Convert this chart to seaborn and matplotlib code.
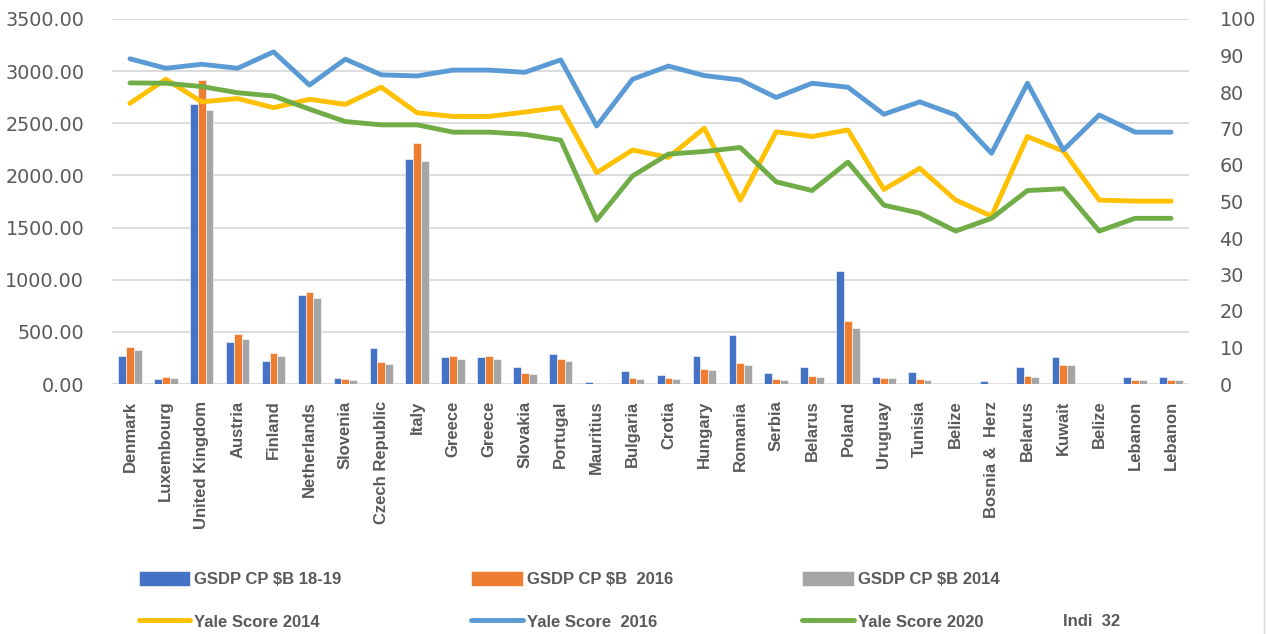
import numpy as np
import pandas as pd
import matplotlib
matplotlib.use("Agg")
import matplotlib.pyplot as plt
import seaborn as sns

categories = ["Denmark", "Luxembourg", "United Kingdom", "Austria", "Finland",
              "Netherlands", "Slovenia", "Czech Republic", "Italy", "Greece",
              "Greece", "Slovakia", "Portugal", "Mauritius", "Bulgaria",
              "Crotia", "Hungary", "Romania", "Serbia", "Belarus", "Poland",
              "Uruguay", "Tunisia", "Belize", "Bosnia &  Herz", "Belarus",
              "Kuwait", "Belize", "Lebanon", "Lebanon"]

gsdp_1819 = [271, 48, 2688, 403, 224, 850, 58, 345, 2158, 259,
             259, 163, 288, 19, 128, 86, 268, 470, 105, 160, 1084,
             67, 118, 0, 32, 160, 256, 0, 70, 70]
gsdp_2016 = [355, 64, 2915, 477, 297, 885, 45, 208, 2311, 268,
             268, 105, 240, 10, 55, 60, 144, 205, 45, 80, 604,
             58, 51, 0, 10, 77, 182, 0, 42, 42]
gsdp_2014 = [326, 55, 2625, 432, 265, 822, 38, 192, 2142, 237,
             237, 96, 221, 5, 48, 51, 131, 182, 35, 70, 537,
             53, 42, 0, 8, 67, 180, 0, 35, 35]

yale_2014 = [76.9, 83.5, 77.3, 78.2, 75.7, 78.0, 76.6, 81.3, 74.3, 73.3,
             73.3, 74.5, 75.8, 57.9, 64.1, 62.1, 70.1, 50.4, 69.1, 67.8, 69.6,
             53.3, 59.1, 50.4, 46.0, 67.8, 63.8, 50.4, 50.1, 50.1]
yale_2016 = [89.1, 86.5, 87.6, 86.5, 91.0, 81.9, 89.0, 84.7, 84.4, 86.0,
             86.0, 85.4, 88.8, 70.7, 83.5, 87.1, 84.5, 83.3, 78.5, 82.4, 81.3,
             73.9, 77.3, 73.7, 63.2, 82.4, 64.1, 73.7, 69.0, 69.0]
yale_2020 = [82.5, 82.4, 81.5, 79.8, 78.9, 75.3, 71.9, 71.0, 71.0, 69.0,
             69.0, 68.4, 66.8, 44.9, 57.0, 63.0, 63.7, 64.8, 55.4, 53.0, 60.8,
             49.0, 46.8, 41.9, 45.4, 53.0, 53.5, 41.9, 45.4, 45.4]

bar_series = ["GSDP CP $B 18-19", "GSDP CP $B  2016", "GSDP CP $B 2014"]
line_series = ["Yale Score 2014", "Yale Score  2016", "Yale Score 2020"]
extra_label = "Indi  32"

bar_colors = ["#4472C4", "#ED7D31", "#A5A5A5"]
line_colors = ["#FFC000", "#5B9BD5", "#70AD47"]

idx = np.arange(len(categories))
bars_df = pd.DataFrame({
    "idx": np.tile(idx, 3),
    "value": gsdp_1819 + gsdp_2016 + gsdp_2014,
    "series": np.repeat(bar_series, len(categories)),
})
lines_df = pd.DataFrame({
    "idx": np.tile(idx, 3),
    "value": yale_2014 + yale_2016 + yale_2020,
    "series": np.repeat(line_series, len(categories)),
})

sns.set_theme(style="white")
plt.rcParams["font.family"] = ["DejaVu Sans"]

W, H = 1267, 634
fig = plt.figure(figsize=(W / 100, H / 100), dpi=100)
ax = fig.add_axes([112 / W, 1 - 384 / H, (1189 - 112) / W, (384 - 19) / H])

sns.barplot(data=bars_df, x="idx", y="value", hue="series",
            hue_order=bar_series, palette=bar_colors, width=0.65,
            ax=ax, saturation=1, edgecolor="white", linewidth=0.4)
bh, bl = ax.get_legend_handles_labels()
if ax.get_legend() is not None:
    ax.get_legend().remove()

ax2 = ax.twinx()
sns.lineplot(data=lines_df, x="idx", y="value", hue="series",
             hue_order=line_series, palette=line_colors, linewidth=3.5,
             ax=ax2)
lh, ll = ax2.get_legend_handles_labels()
if ax2.get_legend() is not None:
    ax2.get_legend().remove()

tick_color = "#595959"
grid_color = "#D9D9D9"

ax.set_xlim(-0.5, len(categories) - 0.5)
ax.set_ylim(0, 3500)
ax.set_yticks(np.arange(0, 3501, 500))
ax.set_yticklabels([f"{v:.2f}" for v in np.arange(0, 3501, 500)])
ax2.set_ylim(0, 100)
ax2.set_yticks(np.arange(0, 101, 10))

ax.set_xticks(idx)
ax.set_xticklabels(categories, rotation=90, fontsize=12, fontweight="bold",
                   color=tick_color, family=["Liberation Sans"])
ax.tick_params(axis="x", length=0, pad=12)
ax.tick_params(axis="y", length=0, pad=20, labelsize=13.8, labelcolor=tick_color)
ax2.tick_params(axis="y", length=0, pad=22, labelsize=13.8, labelcolor=tick_color)
for lab in ax2.get_yticklabels():
    lab.set_horizontalalignment("left")

ax.set_xlabel("")
ax.set_ylabel("")
ax2.set_xlabel("")
ax2.set_ylabel("")

ax.grid(axis="y", color=grid_color, linewidth=1.3)
ax.set_axisbelow(True)
for a in (ax, ax2):
    for s in a.spines.values():
        s.set_visible(False)

# Legend
leg_font = {"family": ["Liberation Sans"], "weight": "bold", "size": 12}
handles = [bh[0], lh[0], bh[1], lh[1], bh[2], lh[2]]
labels = [bl[0], ll[0], bl[1], ll[1], bl[2], ll[2]]
leg = fig.legend(handles, labels, ncol=3, loc="upper left",
                 bbox_to_anchor=(132 / W, 1 - 564 / H), frameon=False,
                 prop=leg_font, handlelength=3.1, handleheight=1.05,
                 handletextpad=0.25, columnspacing=7.75, labelspacing=1.58,
                 borderaxespad=0)
for t in leg.get_texts():
    t.set_color(tick_color)
fig.text(1063 / W, 1 - 622 / H, extra_label, ha="left", va="center",
         color=tick_color, fontdict=leg_font)

# chart border on right edge
fig.add_artist(plt.Line2D([1264 / W, 1264 / W], [0, 1], color=grid_color,
                          linewidth=1, transform=fig.transFigure))

fig.savefig("out.png", dpi=100)
